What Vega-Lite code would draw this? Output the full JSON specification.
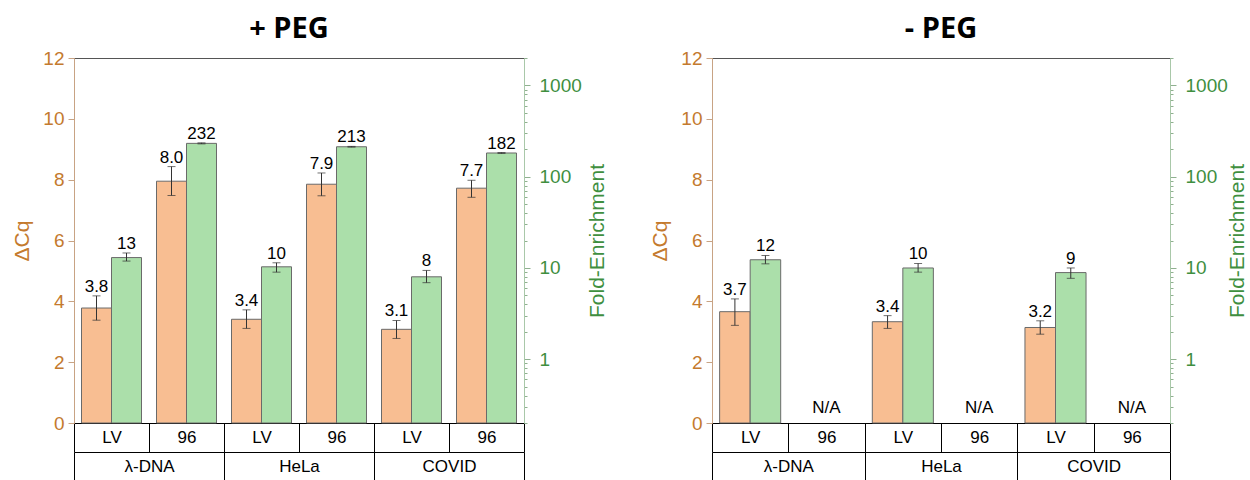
{
  "$schema": "https://vega.github.io/schema/vega-lite/v6.json",
  "padding": {"left": 11, "top": 14, "right": 0, "bottom": 0},
  "datasets": {
    "bars": [
      {"panel": "plus", "cat": "λ-DNA|LV", "series": "dcq", "value": 3.78, "lo": 3.38, "hi": 4.18, "label": "3.8"},
      {"panel": "plus", "cat": "λ-DNA|96", "series": "dcq", "value": 7.95, "lo": 7.48, "hi": 8.43, "label": "8.0"},
      {"panel": "plus", "cat": "HeLa|LV", "series": "dcq", "value": 3.41, "lo": 3.11, "hi": 3.72, "label": "3.4"},
      {"panel": "plus", "cat": "HeLa|96", "series": "dcq", "value": 7.85, "lo": 7.47, "hi": 8.22, "label": "7.9"},
      {"panel": "plus", "cat": "COVID|LV", "series": "dcq", "value": 3.08, "lo": 2.78, "hi": 3.37, "label": "3.1"},
      {"panel": "plus", "cat": "COVID|96", "series": "dcq", "value": 7.72, "lo": 7.42, "hi": 7.98, "label": "7.7"},
      {"panel": "plus", "cat": "λ-DNA|LV", "series": "fold", "value": 13, "lo": 11.9, "hi": 14.6, "label": "13"},
      {"panel": "plus", "cat": "λ-DNA|96", "series": "fold", "value": 232, "lo": 229, "hi": 235, "label": "232"},
      {"panel": "plus", "cat": "HeLa|LV", "series": "fold", "value": 10.3, "lo": 9.0, "hi": 11.4, "label": "10"},
      {"panel": "plus", "cat": "HeLa|96", "series": "fold", "value": 213, "lo": 211, "hi": 215, "label": "213"},
      {"panel": "plus", "cat": "COVID|LV", "series": "fold", "value": 8.0, "lo": 6.9, "hi": 9.4, "label": "8"},
      {"panel": "plus", "cat": "COVID|96", "series": "fold", "value": 182, "lo": 180, "hi": 184, "label": "182"},
      {"panel": "minus", "cat": "λ-DNA|LV", "series": "dcq", "value": 3.66, "lo": 3.21, "hi": 4.08, "label": "3.7"},
      {"panel": "minus", "cat": "HeLa|LV", "series": "dcq", "value": 3.33, "lo": 3.11, "hi": 3.53, "label": "3.4"},
      {"panel": "minus", "cat": "COVID|LV", "series": "dcq", "value": 3.14, "lo": 2.92, "hi": 3.36, "label": "3.2"},
      {"panel": "minus", "cat": "λ-DNA|LV", "series": "fold", "value": 12.3, "lo": 11.1, "hi": 13.7, "label": "12"},
      {"panel": "minus", "cat": "HeLa|LV", "series": "fold", "value": 10.0, "lo": 9.0, "hi": 11.2, "label": "10"},
      {"panel": "minus", "cat": "COVID|LV", "series": "fold", "value": 8.9, "lo": 7.7, "hi": 10.0, "label": "9"}
    ],
    "na": [
      {"panel": "minus", "cat": "λ-DNA|96", "label": "N/A"},
      {"panel": "minus", "cat": "HeLa|96", "label": "N/A"},
      {"panel": "minus", "cat": "COVID|96", "label": "N/A"}
    ],
    "groups": [
      {"group": "λ-DNA"},
      {"group": "HeLa"},
      {"group": "COVID"}
    ]
  },
  "spacing": 41,
  "hconcat": [
    {
      "width": 450,
      "height": 365,
      "title": {"text": "+ PEG", "font": "Open Sans", "fontSize": 29, "fontWeight": "bold", "color": "black", "dx": -10, "offset": 5},
      "layer": [
        {
          "data": {"name": "bars"},
          "transform": [{"filter": "datum.panel === 'plus' && datum.series === 'dcq'"}],
          "encoding": {
            "x": {"field": "cat", "type": "nominal",
              "scale": {"domain": ["λ-DNA|LV", "λ-DNA|96", "HeLa|LV", "HeLa|96", "COVID|LV", "COVID|96"], "paddingInner": 0, "paddingOuter": 0},
              "axis": {"orient": "bottom", "title": null, "labelExpr": "split(datum.value, '|')[1]", "tickBand": "extent", "tickSize": 29, "tickColor": "black", "domainColor": "black", "labelPadding": -23, "labelAngle": 0, "labelFontSize": 17, "labelColor": "black"}},
            "xOffset": {"field": "series", "type": "nominal", "scale": {"domain": ["dcq", "fold"], "paddingInner": 0, "paddingOuter": 0.25}}
          },
          "layer": [
            {"mark": {"type": "bar", "fill": "#F8BE92", "stroke": "#6a6a6a", "strokeWidth": 1},
             "encoding": {"y": {"field": "value", "type": "quantitative", "stack": null, "scale": {"domain": [0, 12], "nice": false},
               "axis": {"orient": "left", "title": "ΔCq", "values": [0,1,2,3,4,5,6,7,8,9,10,11,12],
                 "labelExpr": "datum.value % 2 === 0 ? datum.label : ''",
                 "tickSize": {"condition": {"test": "datum.value % 2 === 1", "value": 3}, "value": 6},
                 "domainColor": "#C8A384", "tickColor": "#C8A384", "labelColor": "#C47A2E", "titleColor": "#C47A2E",
                 "labelFontSize": 19, "titleFontSize": 21, "labelPadding": 4, "titlePadding": 10}}}},
            {"mark": {"type": "rule", "color": "#333333", "strokeWidth": 1},
             "encoding": {"y": {"field": "lo", "type": "quantitative"}, "y2": {"field": "hi"}}},
            {"mark": {"type": "tick", "color": "#333333", "size": 8, "thickness": 1},
             "encoding": {"y": {"field": "lo", "type": "quantitative"}}},
            {"mark": {"type": "tick", "color": "#333333", "size": 8, "thickness": 1},
             "encoding": {"y": {"field": "hi", "type": "quantitative"}}},
            {"mark": {"type": "text", "baseline": "alphabetic", "dy": -4, "fontSize": 17, "color": "black"},
             "encoding": {"y": {"field": "hi", "type": "quantitative"}, "text": {"field": "label"}}}
          ]
        },
        {
          "data": {"name": "bars"},
          "transform": [{"filter": "datum.panel === 'plus' && datum.series === 'fold'"}],
          "encoding": {
            "x": {"field": "cat", "type": "nominal",
              "scale": {"domain": ["λ-DNA|LV", "λ-DNA|96", "HeLa|LV", "HeLa|96", "COVID|LV", "COVID|96"], "paddingInner": 0, "paddingOuter": 0},
              "axis": null},
            "xOffset": {"field": "series", "type": "nominal", "scale": {"domain": ["dcq", "fold"], "paddingInner": 0, "paddingOuter": 0.25}}
          },
          "layer": [
            {"mark": {"type": "bar", "fill": "#ABDFAA", "stroke": "#6a6a6a", "strokeWidth": 1},
             "encoding": {"y": {"field": "value", "type": "quantitative", "stack": null, "scale": {"type": "log", "domain": [0.2, 2000], "nice": false},
               "axis": {"orient": "right", "title": "Fold-Enrichment", "titleAngle": 270,
                 "values": [0.2,0.3,0.4,0.5,0.6,0.7,0.8,0.9,1,2,3,4,5,6,7,8,9,10,20,30,40,50,60,70,80,90,100,200,300,400,500,600,700,800,900,1000,2000],
                 "labelExpr": "indexof([1,10,100,1000], datum.value) >= 0 ? format(datum.value, 'd') : ''",
                 "tickSize": {"condition": {"test": "indexof([1,10,100,1000], datum.value) < 0", "value": 3}, "value": 6},
                 "domainColor": "#A9C8A9", "tickColor": "#8FB08F", "labelColor": "#3F8F3F", "titleColor": "#3F8F3F",
                 "labelFontSize": 19, "titleFontSize": 21, "labelPadding": 9, "titlePadding": 26}}}},
            {"mark": {"type": "rule", "color": "#333333", "strokeWidth": 1},
             "encoding": {"y": {"field": "lo", "type": "quantitative"}, "y2": {"field": "hi"}}},
            {"mark": {"type": "tick", "color": "#333333", "size": 8, "thickness": 1},
             "encoding": {"y": {"field": "lo", "type": "quantitative"}}},
            {"mark": {"type": "tick", "color": "#333333", "size": 8, "thickness": 1},
             "encoding": {"y": {"field": "hi", "type": "quantitative"}}},
            {"mark": {"type": "text", "baseline": "alphabetic", "dy": -4, "fontSize": 17, "color": "black"},
             "encoding": {"y": {"field": "hi", "type": "quantitative"}, "text": {"field": "label"}}}
          ]
        },
        {
          "data": {"name": "groups"},
          "mark": {"type": "point", "opacity": 0},
          "encoding": {
            "x": {"field": "group", "type": "nominal",
              "scale": {"type": "band", "domain": ["λ-DNA", "HeLa", "COVID"], "paddingInner": 0, "paddingOuter": 0},
              "axis": {"orient": "bottom", "offset": 29, "title": null, "tickBand": "extent", "tickSize": 30, "tickColor": "black", "domainColor": "black", "labelPadding": -24, "labelAngle": 0, "labelFontSize": 17, "labelColor": "black"}}
          }
        }
      ],
      "resolve": {"scale": {"x": "independent", "y": "independent", "xOffset": "independent"}, "axis": {"x": "independent", "y": "independent"}}
    },
    {
      "width": 458,
      "height": 365,
      "title": {"text": "- PEG", "font": "Open Sans", "fontSize": 29, "fontWeight": "bold", "color": "black", "offset": 5},
      "layer": [
        {
          "data": {"name": "bars"},
          "transform": [{"filter": "datum.panel === 'minus' && datum.series === 'dcq'"}],
          "encoding": {
            "x": {"field": "cat", "type": "nominal",
              "scale": {"domain": ["λ-DNA|LV", "λ-DNA|96", "HeLa|LV", "HeLa|96", "COVID|LV", "COVID|96"], "paddingInner": 0, "paddingOuter": 0},
              "axis": {"orient": "bottom", "title": null, "labelExpr": "split(datum.value, '|')[1]", "tickBand": "extent", "tickSize": 29, "tickColor": "black", "domainColor": "black", "labelPadding": -23, "labelAngle": 0, "labelFontSize": 17, "labelColor": "black"}},
            "xOffset": {"field": "series", "type": "nominal", "scale": {"domain": ["dcq", "fold"], "paddingInner": 0, "paddingOuter": 0.25}}
          },
          "layer": [
            {"mark": {"type": "bar", "fill": "#F8BE92", "stroke": "#6a6a6a", "strokeWidth": 1},
             "encoding": {"y": {"field": "value", "type": "quantitative", "stack": null, "scale": {"domain": [0, 12], "nice": false},
               "axis": {"orient": "left", "title": "ΔCq", "values": [0,1,2,3,4,5,6,7,8,9,10,11,12],
                 "labelExpr": "datum.value % 2 === 0 ? datum.label : ''",
                 "tickSize": {"condition": {"test": "datum.value % 2 === 1", "value": 3}, "value": 6},
                 "domainColor": "#C8A384", "tickColor": "#C8A384", "labelColor": "#C47A2E", "titleColor": "#C47A2E",
                 "labelFontSize": 19, "titleFontSize": 21, "labelPadding": 4, "titlePadding": 10}}}},
            {"mark": {"type": "rule", "color": "#333333", "strokeWidth": 1},
             "encoding": {"y": {"field": "lo", "type": "quantitative"}, "y2": {"field": "hi"}}},
            {"mark": {"type": "tick", "color": "#333333", "size": 8, "thickness": 1},
             "encoding": {"y": {"field": "lo", "type": "quantitative"}}},
            {"mark": {"type": "tick", "color": "#333333", "size": 8, "thickness": 1},
             "encoding": {"y": {"field": "hi", "type": "quantitative"}}},
            {"mark": {"type": "text", "baseline": "alphabetic", "dy": -4, "fontSize": 17, "color": "black"},
             "encoding": {"y": {"field": "hi", "type": "quantitative"}, "text": {"field": "label"}}}
          ]
        },
        {
          "data": {"name": "bars"},
          "transform": [{"filter": "datum.panel === 'minus' && datum.series === 'fold'"}],
          "encoding": {
            "x": {"field": "cat", "type": "nominal",
              "scale": {"domain": ["λ-DNA|LV", "λ-DNA|96", "HeLa|LV", "HeLa|96", "COVID|LV", "COVID|96"], "paddingInner": 0, "paddingOuter": 0},
              "axis": null},
            "xOffset": {"field": "series", "type": "nominal", "scale": {"domain": ["dcq", "fold"], "paddingInner": 0, "paddingOuter": 0.25}}
          },
          "layer": [
            {"mark": {"type": "bar", "fill": "#ABDFAA", "stroke": "#6a6a6a", "strokeWidth": 1},
             "encoding": {"y": {"field": "value", "type": "quantitative", "stack": null, "scale": {"type": "log", "domain": [0.2, 2000], "nice": false},
               "axis": {"orient": "right", "title": "Fold-Enrichment", "titleAngle": 270,
                 "values": [0.2,0.3,0.4,0.5,0.6,0.7,0.8,0.9,1,2,3,4,5,6,7,8,9,10,20,30,40,50,60,70,80,90,100,200,300,400,500,600,700,800,900,1000,2000],
                 "labelExpr": "indexof([1,10,100,1000], datum.value) >= 0 ? format(datum.value, 'd') : ''",
                 "tickSize": {"condition": {"test": "indexof([1,10,100,1000], datum.value) < 0", "value": 3}, "value": 6},
                 "domainColor": "#A9C8A9", "tickColor": "#8FB08F", "labelColor": "#3F8F3F", "titleColor": "#3F8F3F",
                 "labelFontSize": 19, "titleFontSize": 21, "labelPadding": 9, "titlePadding": 20}}}},
            {"mark": {"type": "rule", "color": "#333333", "strokeWidth": 1},
             "encoding": {"y": {"field": "lo", "type": "quantitative"}, "y2": {"field": "hi"}}},
            {"mark": {"type": "tick", "color": "#333333", "size": 8, "thickness": 1},
             "encoding": {"y": {"field": "lo", "type": "quantitative"}}},
            {"mark": {"type": "tick", "color": "#333333", "size": 8, "thickness": 1},
             "encoding": {"y": {"field": "hi", "type": "quantitative"}}},
            {"mark": {"type": "text", "baseline": "alphabetic", "dy": -4, "fontSize": 17, "color": "black"},
             "encoding": {"y": {"field": "hi", "type": "quantitative"}, "text": {"field": "label"}}}
          ]
        },
        {
          "data": {"name": "na"},
          "mark": {"type": "text", "baseline": "alphabetic", "dy": -10, "fontSize": 17, "color": "black"},
          "encoding": {
            "x": {"field": "cat", "type": "nominal",
              "scale": {"domain": ["λ-DNA|LV", "λ-DNA|96", "HeLa|LV", "HeLa|96", "COVID|LV", "COVID|96"], "paddingInner": 0, "paddingOuter": 0},
              "axis": null},
            "y": {"datum": 0, "type": "quantitative", "scale": {"domain": [0, 12], "nice": false}, "axis": null},
            "text": {"field": "label"}
          }
        },
        {
          "data": {"name": "groups"},
          "mark": {"type": "point", "opacity": 0},
          "encoding": {
            "x": {"field": "group", "type": "nominal",
              "scale": {"type": "band", "domain": ["λ-DNA", "HeLa", "COVID"], "paddingInner": 0, "paddingOuter": 0},
              "axis": {"orient": "bottom", "offset": 29, "title": null, "tickBand": "extent", "tickSize": 30, "tickColor": "black", "domainColor": "black", "labelPadding": -24, "labelAngle": 0, "labelFontSize": 17, "labelColor": "black"}}
          }
        }
      ],
      "resolve": {"scale": {"x": "independent", "y": "independent", "xOffset": "independent"}, "axis": {"x": "independent", "y": "independent"}}
    }
  ],
  "config": {
    "font": "Liberation Sans",
    "view": {"stroke": "#555555"},
    "axis": {"grid": false, "labelFont": "Liberation Sans", "titleFont": "Liberation Sans", "titleFontWeight": "normal"},
    "text": {"font": "Liberation Sans"}
  }
}
